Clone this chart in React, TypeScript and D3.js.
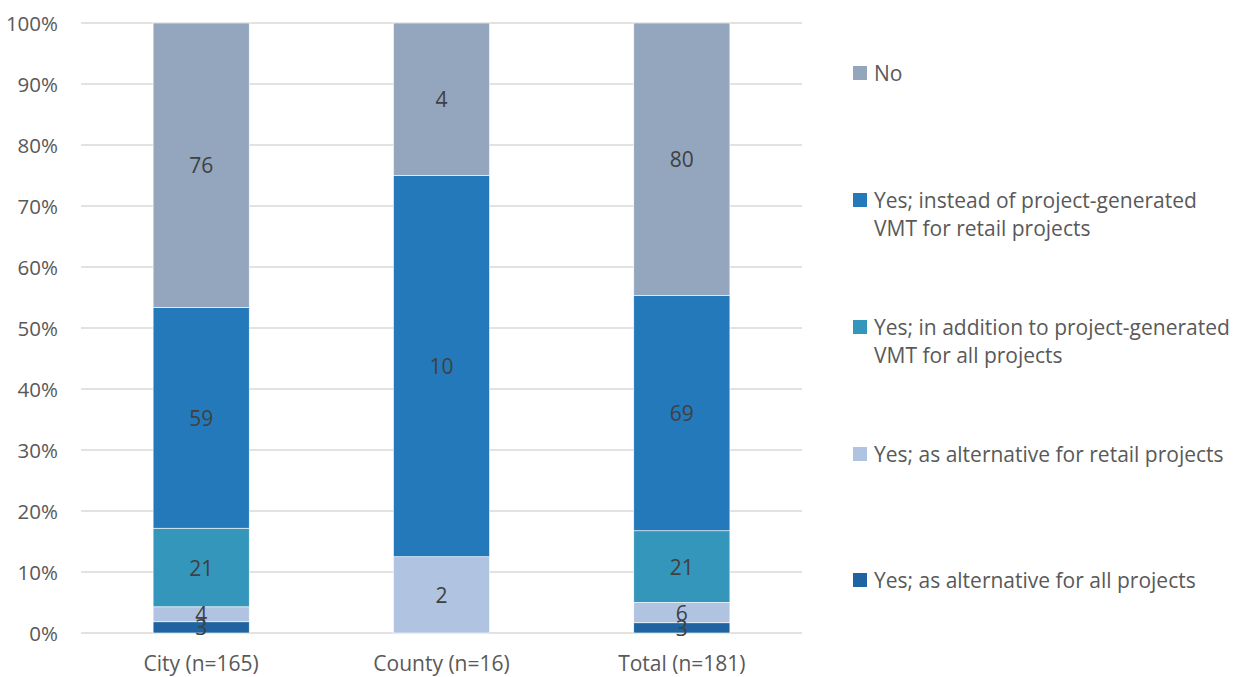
import React from "react";
import * as d3 from "d3";

const categories = ["City (n=165)", "County (n=16)", "Total (n=181)"];

// series listed bottom-to-top in the stack
const seriesNames = [
  "Yes; as alternative for all projects",
  "Yes; as alternative for retail projects",
  "Yes; in addition to project-generated VMT for all projects",
  "Yes; instead of project-generated VMT for retail projects",
  "No",
];

const altAll = [3, 0, 3];
const altRetail = [4, 2, 6];
const inAddition = [21, 0, 21];
const instead = [59, 10, 69];
const no = [76, 4, 80];

const seriesColors = ["#1F64A0", "#B0C4E2", "#3396BA", "#2479BA", "#94A6BE"];

// legend lines, top-to-bottom
const legendLines: string[][] = [
  ["No"],
  ["Yes; instead of project-generated", "VMT for retail projects"],
  ["Yes; in addition to project-generated", "VMT for all projects"],
  ["Yes; as alternative for retail projects"],
  ["Yes; as alternative for all projects"],
];
const legendColors = ["#94A6BE", "#2479BA", "#3396BA", "#B0C4E2", "#1F64A0"];

const yTicks = [0, 0.1, 0.2, 0.3, 0.4, 0.5, 0.6, 0.7, 0.8, 0.9, 1];

const W = 1233;
const H = 677;
const FONT = "'Open Sans', 'DejaVu Sans', sans-serif";

export default function App() {
  const left = 81;
  const right = 802;
  const top = 23;
  const bottom = 633;

  const x = d3
    .scaleBand<string>()
    .domain(categories)
    .range([left, right])
    .paddingInner(0.6)
    .paddingOuter(0.3);
  const y = d3.scaleLinear().domain([0, 1]).range([bottom, top]);

  const seriesValues = [altAll, altRetail, inAddition, instead, no];
  const rows = categories.map((c, i) => {
    const r: Record<string, number | string> = { cat: c };
    seriesNames.forEach((s, k) => (r[s] = seriesValues[k][i]));
    return r;
  });

  const stack = d3
    .stack<Record<string, number | string>>()
    .keys(seriesNames)
    .value((d, key) => d[key] as number)
    .offset(d3.stackOffsetExpand);
  const layers = stack(rows);

  const legendX = 853;
  const legendTextX = 874;
  const legendY = [73, 200, 327, 454, 580];
  const lineGap = 28;

  return (
    <svg width={W} height={H} style={{ position: "absolute", left: 0, top: 0 }}>
      <rect width={W} height={H} fill="#fff" />
      {yTicks.map((t) => (
        <g key={t}>
          <line x1={left} x2={right} y1={y(t)} y2={y(t)} stroke="#D9D9D9" strokeWidth={1.3} />
          <text
            x={58}
            y={y(t)}
            textAnchor="end"
            dominantBaseline="central"
            fontFamily={FONT}
            fontSize={20.5}
            fill="#595959"
          >
            {d3.format(".0%")(t)}
          </text>
        </g>
      ))}
      {layers.map((layer, k) => (
        <g key={layer.key}>
          {layer.map((seg, i) => {
            const v = seriesValues[k][i];
            if (!v) return null;
            const x0 = x(categories[i])!;
            const y0 = y(seg[1]);
            const y1 = y(seg[0]);
            return (
              <rect
                key={i}
                x={x0}
                y={y0}
                width={x.bandwidth()}
                height={y1 - y0}
                fill={seriesColors[k]}
                stroke="#fff"
                strokeWidth={0.6}
              />
            );
          })}
        </g>
      ))}
      {layers.map((layer, k) => (
        <g key={"lbl" + layer.key}>
          {layer.map((seg, i) => {
            const v = seriesValues[k][i];
            if (!v) return null;
            return (
              <text
                key={i}
                x={x(categories[i])! + x.bandwidth() / 2}
                y={(y(seg[0]) + y(seg[1])) / 2}
                textAnchor="middle"
                dominantBaseline="central"
                fontFamily={FONT}
                fontSize={21}
                fill="#404040"
              >
                {v}
              </text>
            );
          })}
        </g>
      ))}
      {categories.map((c) => (
        <text
          key={c}
          x={x(c)! + x.bandwidth() / 2}
          y={663}
          textAnchor="middle"
          dominantBaseline="central"
          fontFamily={FONT}
          fontSize={21}
          fill="#595959"
        >
          {c}
        </text>
      ))}
      {legendLines.map((lines, j) => (
        <g key={j}>
          <rect x={legendX} y={legendY[j] - 7} width={14} height={14} fill={legendColors[j]} />
          {lines.map((ln, m) => (
            <text
              key={m}
              x={legendTextX}
              y={legendY[j] + m * lineGap}
              dominantBaseline="central"
              fontFamily={FONT}
              fontSize={21}
              fill="#595959"
            >
              {ln}
            </text>
          ))}
        </g>
      ))}
    </svg>
  );
}
